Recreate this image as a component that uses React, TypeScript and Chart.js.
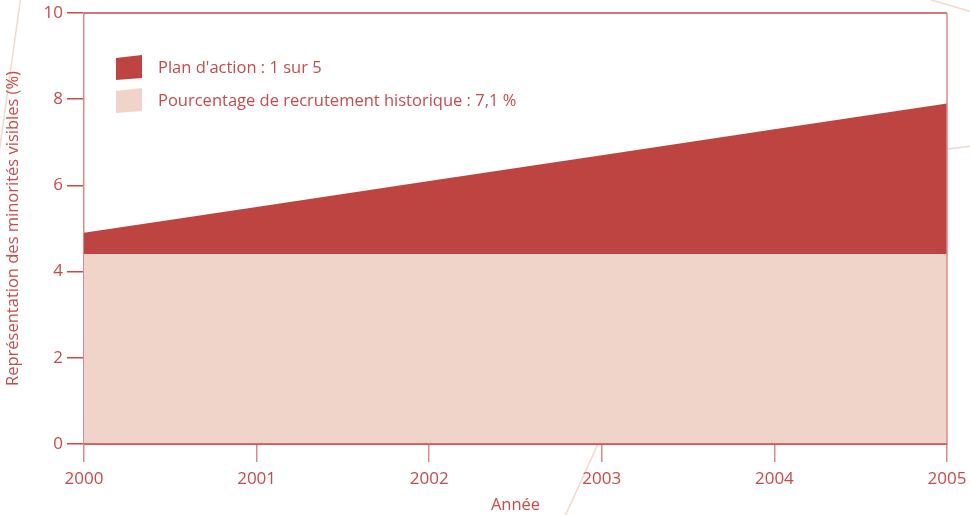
import React, { useEffect, useRef } from "react";
import { Chart, registerables } from "chart.js";
Chart.register(...registerables);

const years = ["2000", "2001", "2002", "2003", "2004", "2005"];
const historicalRate = [4.4, 4.4, 4.4, 4.4, 4.4, 4.4];
const actionPlanTotal = [4.9, 5.5, 6.1, 6.7, 7.3, 7.9];
const legendLabels = ["Plan d'action : 1 sur 5", "Pourcentage de recrutement historique : 7,1 %"];
const yAxisTitle = "Représentation des minorités visibles (%)";
const xAxisTitle = "Année";

const TEXT = "#c94a4a";
const RED = "#bd4441";
const PINK = "#f0d4ca";
const AXIS = "#cf4646";
const LIGHT_AXIS = "#dc8a8a";
const DECOR = "#f3d8cc";
const FONT = "'Open Sans', 'Noto Sans', sans-serif";

const decorPlugin = {
  id: "decor",
  beforeDraw(chart: any) {
    const ctx = chart.ctx;
    const w = chart.width;
    const h = chart.height;
    ctx.save();
    ctx.strokeStyle = DECOR;
    ctx.lineWidth = 1.5;
    const lines = [
      [0.021, 0, -0.01, 0.42],
      [0.96, 0, 1, 0.022],
      [0.976, 0.29, 1, 0.284],
      [0.616, 0.864, 0.583, 1],
    ];
    for (const [x1, y1, x2, y2] of lines) {
      ctx.beginPath();
      ctx.moveTo(x1 * w, y1 * h);
      ctx.lineTo(x2 * w, y2 * h);
      ctx.stroke();
    }
    ctx.restore();
  },
};

const framePlugin = {
  id: "frame",
  afterDatasetsDraw(chart: any) {
    const { ctx, chartArea } = chart;
    ctx.save();
    ctx.lineWidth = 1.5;
    ctx.strokeStyle = AXIS;
    ctx.beginPath();
    ctx.moveTo(chartArea.left, chartArea.top);
    ctx.lineTo(chartArea.right, chartArea.top);
    ctx.stroke();
    ctx.beginPath();
    ctx.moveTo(chartArea.left, chartArea.bottom);
    ctx.lineTo(chartArea.right, chartArea.bottom);
    ctx.stroke();
    ctx.strokeStyle = LIGHT_AXIS;
    ctx.beginPath();
    ctx.moveTo(chartArea.right, chartArea.top);
    ctx.lineTo(chartArea.right, chartArea.bottom);
    ctx.stroke();
    ctx.restore();
  },
};

const legendPlugin = {
  id: "customLegend",
  afterDraw(chart: any) {
    const { ctx, chartArea } = chart;
    const ds = chart.data.datasets;
    const order = [1, 0];
    const x0 = chartArea.left + 32;
    const y0 = chartArea.top + 42;
    ctx.save();
    order.forEach((di, i) => {
      const y = y0 + i * 33;
      ctx.fillStyle = ds[di].backgroundColor;
      ctx.beginPath();
      ctx.moveTo(x0, y + 3);
      ctx.lineTo(x0 + 26, y);
      ctx.lineTo(x0 + 26, y + 23);
      ctx.lineTo(x0, y + 25);
      ctx.closePath();
      ctx.fill();
      ctx.fillStyle = TEXT;
      ctx.font = `16.5px ${FONT}`;
      ctx.textBaseline = "middle";
      ctx.textAlign = "left";
      ctx.fillText(legendLabels[i], x0 + 42, y + 13);
    });
    ctx.restore();
  },
};

export default function App() {
  const ref = useRef<HTMLCanvasElement | null>(null);
  useEffect(() => {
    document.body.style.margin = "0";
    const chart = new Chart(ref.current as HTMLCanvasElement, {
      type: "line",
      data: {
        labels: years,
        datasets: [
          {
            label: legendLabels[1],
            data: historicalRate,
            fill: "origin",
            backgroundColor: PINK,
            borderWidth: 0,
            pointRadius: 0,
            tension: 0,
          },
          {
            label: legendLabels[0],
            data: actionPlanTotal,
            fill: "-1",
            backgroundColor: RED,
            borderColor: RED,
            borderWidth: 0,
            pointRadius: 0,
            tension: 0,
          },
        ],
      },
      options: {
        responsive: false,
        animation: false,
        layout: { padding: { top: 13, right: 23, left: 0, bottom: 0 } },
        plugins: { legend: { display: false }, tooltip: { enabled: false } },
        scales: {
          x: {
            type: "category",
            offset: false,
            grid: {
              display: true,
              drawOnChartArea: false,
              drawTicks: true,
              tickLength: 18,
              color: LIGHT_AXIS,
              lineWidth: 1.5,
            },
            border: { display: true, color: AXIS, width: 1.5 },
            ticks: { color: TEXT, font: { family: FONT, size: 17 }, padding: 7, maxRotation: 0 },
            title: {
              display: true,
              text: xAxisTitle,
              color: TEXT,
              font: { family: FONT, size: 16.5 },
              padding: { top: 2, bottom: 0 },
            },
            afterFit(scale: any) {
              scale.height = 71;
              scale.paddingLeft = 0;
              scale.paddingRight = 0;
            },
          },
          y: {
            min: 0,
            max: 10,
            grid: {
              display: true,
              drawOnChartArea: false,
              drawTicks: true,
              tickLength: 17,
              color: AXIS,
              lineWidth: 1.5,
            },
            border: { display: true, color: LIGHT_AXIS, width: 1.5 },
            ticks: { stepSize: 2, color: TEXT, font: { family: FONT, size: 17 }, padding: 4 },
            title: {
              display: true,
              text: yAxisTitle,
              color: TEXT,
              font: { family: FONT, size: 16.5 },
              padding: { top: 3, bottom: 0 },
            },
            afterFit(scale: any) {
              scale.width = 84;
              scale.paddingTop = 0;
              scale.paddingBottom = 0;
            },
          },
        },
      },
      plugins: [decorPlugin, framePlugin, legendPlugin],
    } as any);
    return () => chart.destroy();
  }, []);
  return (
    <div style={{ position: "absolute", left: 0, top: 0, width: 970, height: 515 }}>
      <canvas ref={ref} width={970} height={515} />
    </div>
  );
}
